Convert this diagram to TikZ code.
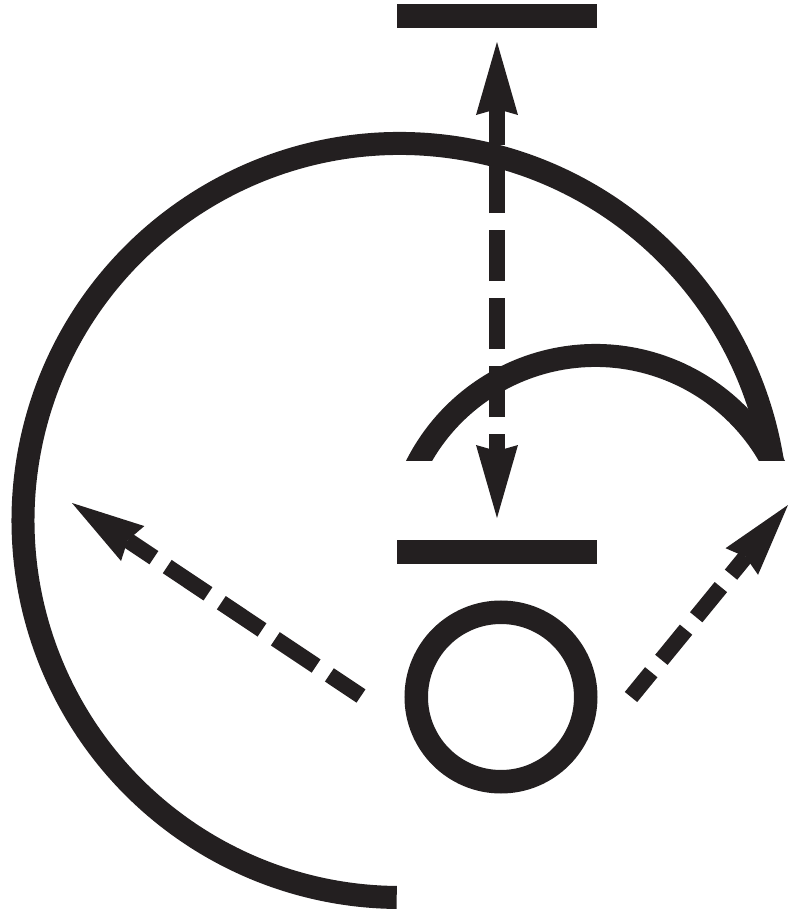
\documentclass[tikz,border=0pt]{standalone}
\usepackage{tikz}
\usetikzlibrary{arrows.meta, positioning, calc}
\definecolor{symblack}{RGB}{35,31,32}

\begin{document}
\begin{tikzpicture}[x=0.1mm, y=0.1mm,
  >={Stealth[length=7.3mm, width=4.2mm, inset=0.6mm, line width=0pt]},
  bar/.style={rectangle, fill=symblack, minimum width=20mm, minimum height=2.35mm, inner sep=0pt, outer sep=0pt},
  ring/.style={circle, draw=symblack, line width=2.35mm, minimum size=16.95mm, inner sep=0pt, outer sep=0pt},
  curve/.style={draw=symblack, line width=2.3mm},
  dasharr/.style={symblack, line width=1.6mm}
]
\useasboundingbox (0,0) rectangle (788,913);
% bars and ring
\node[bar] (topbar) at (497,897) {};
\node[bar] (lowbar) at (497,361) {};
\node[ring] (ring) at (501,216) {};
% arcs
\coordinate (bigc) at (400,392.5);
\coordinate (smallc) at (595.5,357);
\begin{scope}
  \clip (0,453) rectangle (788,913) (0,0) rectangle (400,453);
  \draw[curve] ($(bigc)+(-10:377)$) arc[start angle=-10, end angle=269.5, radius=377];
\end{scope}
\begin{scope}
  \clip (0,453) rectangle (788,913);
  \draw[curve] ($(smallc)+(160:200.5)$) arc[start angle=160, end angle=20, radius=200.5];
\end{scope}
% arrow ends
\coordinate (uptip) at (497,871);
\coordinate (downtip) at (497,395);
\coordinate (lefttail) at (361,217);
\coordinate (lefttip) at (72,410);
\coordinate (righttail) at (631,216);
\coordinate (righttip) at (788,408);
% Arrows
\draw[dasharr, <->, dash pattern=on 5.1mm off 1.7mm, dash phase=3.4mm] (downtip) -- (uptip);
\draw[dasharr, ->, dash pattern=on 4.9mm off 1.6mm, dash phase=1.1mm] (lefttail) -- (lefttip);
\draw[dasharr, ->, dash pattern=on 3.9mm off 1.6mm, dash phase=0.7mm] (righttail) -- (righttip);
\end{tikzpicture}
\end{document}
